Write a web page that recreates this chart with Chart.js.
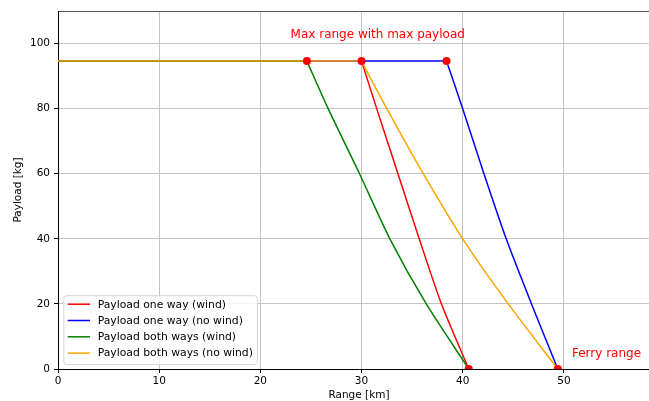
<!DOCTYPE html>
<html>
<head>
<meta charset="utf-8">
<script src="https://cdn.jsdelivr.net/npm/chart.js@4.4.0/dist/chart.umd.min.js"></script>
<style>
  html, body { margin: 0; padding: 0; background: #fff; overflow: hidden; }
</style>
</head>
<body>
<canvas id="chart" width="670" height="401"></canvas>
<script>
// ---------- Data (range in km, payload in kg) ----------
// first two points = flat max-payload part, the rest = the drop to zero
const rangeOneWayWind = [0, 30, 31.5, 33.6, 35.7, 37.9, 40.6];
const payloadOneWayWind = [94.6, 94.6, 80, 60, 40, 20, 0];

const rangeOneWayNoWind = [0, 38.4, 40.0, 42.1, 44.3, 46.8, 49.4];
const payloadOneWayNoWind = [94.6, 94.6, 80, 60, 40, 20, 0];

const rangeBothWaysWind = [0, 24.6, 26.7, 29.8, 32.8, 36.4, 40.6];
const payloadBothWaysWind = [94.6, 94.6, 80, 60, 40, 20, 0];

const rangeBothWaysNoWind = [0, 30, 32.5, 36.1, 40.0, 44.5, 49.4];
const payloadBothWaysNoWind = [94.6, 94.6, 80, 60, 40, 20, 0];

// key points (red dots)
const markerRange = [24.6, 30, 38.4, 40.6, 49.4];
const markerPayload = [94.6, 94.6, 94.6, 0, 0];

const xTicks = [0, 10, 20, 30, 40, 50];
const yTicks = [0, 20, 40, 60, 80, 100];

// text notes: [label, range, payload, align]
const notes = [
  ["Max range with max payload", 31.6, 102.6, "center"],
  ["Ferry range", 50.8, 4.75, "left"],
];

// ---------- Helpers ----------
const toPoints = (xs, ys) => xs.map((x, i) => ({ x: x, y: ys[i] }));
const FONT = "DejaVu Sans";

// each series = flat part (straight) + drop part (smoothed)
function seriesSets(label, xs, ys, color, order) {
  const pts = toPoints(xs, ys);
  const base = {
    borderColor: color,
    backgroundColor: color,
    borderWidth: 1.5,
    pointRadius: 0,
    fill: false,
    order: order,
  };
  return [
    { ...base, label: label + " flat", data: pts.slice(0, 2), tension: 0 },
    { ...base, label: label, data: pts.slice(1), tension: 0.25, inLegend: true },
  ];
}

// legend drawn inside the plot, lower left (matplotlib style)
const boxLegend = {
  id: "boxLegend",
  afterDatasetsDraw(chart) {
    const ctx = chart.ctx;
    const area = chart.chartArea;
    const items = chart.data.datasets.filter((d) => d.inLegend);
    ctx.save();
    ctx.font = "10.8px " + FONT;
    const textW = Math.max(...items.map((d) => ctx.measureText(d.label).width));
    const rowH = 16.3;
    const w = 34.4 + textW + 4;
    const h = items.length * rowH + 3.6;
    const left = area.left + 5.3;
    const top = area.bottom - 5 - h;
    ctx.beginPath();
    ctx.roundRect(left + 0.5, top + 0.5, w, h, 3);
    ctx.fillStyle = "rgba(255,255,255,0.8)";
    ctx.fill();
    ctx.strokeStyle = "#d6d6d6";
    ctx.lineWidth = 1;
    ctx.stroke();
    items.forEach((d, i) => {
      const cy = top + 9 + i * rowH;
      ctx.beginPath();
      ctx.moveTo(left + 4.4, cy);
      ctx.lineTo(left + 26.7, cy);
      ctx.strokeStyle = d.borderColor;
      ctx.lineWidth = 1.5;
      ctx.stroke();
      ctx.fillStyle = "#000";
      ctx.textBaseline = "middle";
      ctx.textAlign = "left";
      ctx.fillText(d.label, left + 34.4, cy + 0.5);
    });
    ctx.restore();
  },
};

// red text notes placed in data coordinates
const noteText = {
  id: "noteText",
  afterDatasetsDraw(chart) {
    const ctx = chart.ctx;
    const xs = chart.scales.x, ys = chart.scales.y;
    ctx.save();
    ctx.font = "12px " + FONT;
    ctx.fillStyle = "red";
    ctx.textBaseline = "middle";
    notes.forEach(([text, x, y, align]) => {
      ctx.textAlign = align;
      ctx.fillText(text, xs.getPixelForValue(x), ys.getPixelForValue(y));
    });
    ctx.restore();
  },
};

// ---------- Chart ----------
const gridColor = "#c4c4c4";

new Chart(document.getElementById("chart"), {
  type: "line",
  data: {
    datasets: [
      ...seriesSets("Payload one way (wind)", rangeOneWayWind, payloadOneWayWind, "#ff0000", 4),
      ...seriesSets("Payload one way (no wind)", rangeOneWayNoWind, payloadOneWayNoWind, "#0000ff", 3),
      ...seriesSets("Payload both ways (wind)", rangeBothWaysWind, payloadBothWaysWind, "#008000", 2),
      ...seriesSets("Payload both ways (no wind)", rangeBothWaysNoWind, payloadBothWaysNoWind, "#ffa500", 1),
      {
        label: "points",
        data: toPoints(markerRange, markerPayload),
        showLine: false,
        pointRadius: 4,
        pointBorderWidth: 0,
        pointBackgroundColor: "#ff0000",
        borderColor: "#ff0000",
        order: 0,
      },
    ],
  },
  options: {
    responsive: false,
    animation: false,
    devicePixelRatio: 1,
    layout: { padding: { left: 0, right: 10, top: 11, bottom: 0 } },
    plugins: { legend: { display: false }, tooltip: { enabled: false } },
    scales: {
      x: {
        type: "linear",
        min: 0,
        max: 59.5,
        afterBuildTicks: (s) => { s.ticks = xTicks.map((v) => ({ value: v })); },
        afterFit: (s) => { s.height = 32; },
        ticks: { font: { family: FONT, size: 10.5 }, color: "#000", padding: 2, maxRotation: 0, autoSkip: false },
        grid: { color: gridColor, lineWidth: 1, tickLength: 4, tickColor: "#000" },
        border: { color: "#000", width: 1 },
        title: {
          display: true,
          text: "Range [km]",
          color: "#000",
          font: { family: FONT, size: 10.5, lineHeight: 1 },
          padding: { top: 0, bottom: 0 },
        },
      },
      x2: {
        type: "linear",
        position: "top",
        min: 0,
        max: 59.5,
        afterFit: (s) => { s.height = 0; },
        ticks: { display: false },
        grid: { display: false },
        border: { color: "#555", width: 1 },
      },
      y: {
        type: "linear",
        min: 0,
        max: 110,
        afterBuildTicks: (s) => { s.ticks = yTicks.map((v) => ({ value: v })); },
        afterFit: (s) => { s.width = 58; },
        ticks: { font: { family: FONT, size: 10.5 }, color: "#000", padding: 4 },
        grid: { color: gridColor, lineWidth: 1, tickLength: 4, tickColor: "#000" },
        border: { color: "#000", width: 1 },
        title: {
          display: true,
          text: "Payload [kg]",
          color: "#000",
          font: { family: FONT, size: 10.5, lineHeight: 1 },
          padding: { top: 13, bottom: 0 },
        },
      },
    },
  },
  plugins: [noteText, boxLegend],
});
</script>
</body>
</html>
